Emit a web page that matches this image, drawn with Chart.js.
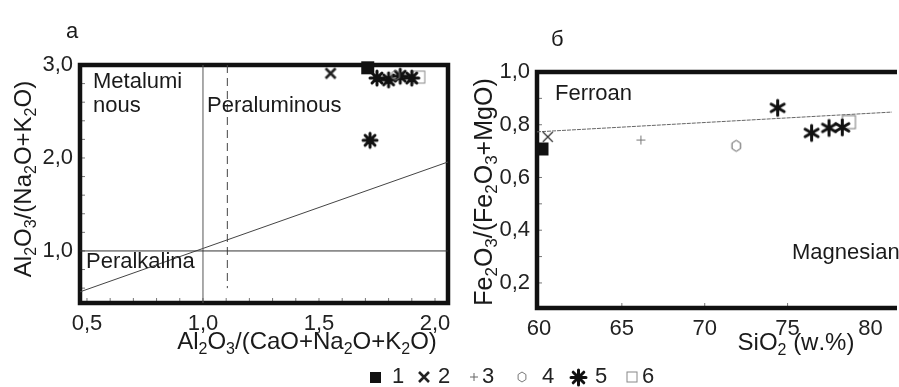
<!DOCTYPE html>
<html>
<head>
<meta charset="utf-8">
<script src="https://cdn.jsdelivr.net/npm/chart.js@4.4.1/dist/chart.umd.min.js"></script>
<style>
  body { margin: 0; background: #fff; width: 899px; height: 387px; overflow: hidden; position: relative;
         font-family: "Liberation Sans", Arial, sans-serif; }
  canvas { position: absolute; top: 0; }
  #left { left: 0; }
  #right { left: 460px; }
  .lg { position: absolute; font-size: 22px; line-height: 22px; color: #222; }
</style>
</head>
<body>
<canvas id="left" width="460" height="387"></canvas>
<canvas id="right" width="439" height="387"></canvas>
<div id="legend"></div>
<script>
const FONT = '"Liberation Sans", Arial, sans-serif';

// groups shown in the legend
const groupLabels = ["1", "2", "3", "4", "5", "6"];

// panel а : Al2O3/(CaO+Na2O+K2O) vs Al2O3/(Na2O+K2O)
const a1x = [1.71], a1y = [2.97];
const a2x = [1.55], a2y = [2.91];
const a4x = [1.83], a4y = [2.89];
const a5x = [1.72, 1.75, 1.80, 1.85, 1.90], a5y = [2.19, 2.86, 2.84, 2.88, 2.86];
const a6x = [1.93], a6y = [2.87];

// panel а boundaries
const aHorizX = [0.47, 2.056], aHorizY = [1.0, 1.0];
const aVertX = [1.0, 1.0], aVertY = [0.44, 3.0];
const aDashX = [1.105, 1.105], aDashY = [3.0, 0.6];
const aDiagX = [0.47, 2.056], aDiagY = [0.56, 1.957];

// panel б : SiO2 vs Fe2O3/(Fe2O3+MgO)
const b1x = [60.18], b1y = [0.708];
const b2x = [60.53], b2y = [0.754];
const b3x = [66.15], b3y = [0.742];
const b4x = [71.9], b4y = [0.72];
const b5x = [74.4, 76.45, 77.5, 78.3], b5y = [0.864, 0.769, 0.788, 0.79];
const b6x = [78.7], b6y = [0.81];

// ferroan / magnesian boundary
const bLineX = [59.88, 81.3], bLineY = [0.773, 0.848];

// tick labels
const aXTicks = [0.5, 1.0, 1.5, 2.0];
const aYTicks = [1.0, 2.0, 3.0];
const bXTicks = [60, 65, 70, 75, 80];
const bYTicks = [0.2, 0.4, 0.6, 0.8, 1.0];

// marker images
function marker(kind, size, lw, color) {
  const pad = Math.ceil(lw) + 2;
  const c = document.createElement("canvas");
  c.width = c.height = size + pad * 2;
  const g = c.getContext("2d");
  const m = c.width / 2, r = size / 2;
  g.strokeStyle = color;
  g.fillStyle = color;
  g.lineWidth = lw;
  g.beginPath();
  if (kind === "square") {
    g.fillRect(m - r, m - r, size, size);
  } else if (kind === "box") {
    g.strokeRect(m - r, m - r, size, size);
  } else if (kind === "x") {
    g.moveTo(m - r, m - r); g.lineTo(m + r, m + r);
    g.moveTo(m + r, m - r); g.lineTo(m - r, m + r);
    g.stroke();
  } else if (kind === "plus") {
    g.moveTo(m - r, m); g.lineTo(m + r, m);
    g.moveTo(m, m - r); g.lineTo(m, m + r);
    g.stroke();
  } else if (kind === "hex") {
    for (let i = 0; i < 6; i++) {
      const t = -Math.PI / 2 + i * Math.PI / 3;
      const px = m + r * 0.9 * Math.cos(t), py = m + r * Math.sin(t);
      if (i === 0) g.moveTo(px, py); else g.lineTo(px, py);
    }
    g.closePath();
    g.stroke();
  } else if (kind === "star6" || kind === "star8") {
    const n = kind === "star6" ? 3 : 4;
    g.lineCap = "round";
    for (let i = 0; i < n; i++) {
      const t = Math.PI / 2 + i * Math.PI / n;
      g.moveTo(m - r * Math.cos(t), m - r * Math.sin(t));
      g.lineTo(m + r * Math.cos(t), m + r * Math.sin(t));
    }
    g.stroke();
  }
  return c;
}

const mkA = {
  sq: marker("square", 13, 1, "#111"),
  x: marker("x", 10, 2.6, "#222"),
  hex: marker("hex", 10, 1, "#777"),
  star: marker("star8", 14, 3, "#111"),
  box: marker("box", 12, 1, "#888")
};
const mkB = {
  sq: marker("square", 13, 1, "#111"),
  x: marker("x", 10, 1.3, "#333"),
  plus: marker("plus", 9, 1, "#777"),
  hex: marker("hex", 11, 1, "#555"),
  star: marker("star6", 15, 3, "#111"),
  box: marker("box", 13, 1, "#777")
};

function pts(xs, ys, img) {
  return { data: xs.map((x, i) => ({ x: x, y: ys[i] })), pointStyle: img, pointRadius: 6, clip: false };
}
function line(xs, ys, color, dash, w) {
  return { data: xs.map((x, i) => ({ x: x, y: ys[i] })), showLine: true, pointRadius: 0,
           borderColor: color, borderWidth: w || 1, borderDash: dash || [] };
}

function richText(g, str, x, y, size, align) {
  // "_" puts the next character in subscript
  const parts = [];
  for (let i = 0; i < str.length; i++) {
    if (str[i] === "_") { parts.push([str[i + 1], true]); i++; }
    else parts.push([str[i], false]);
  }
  const sub = Math.round(size * 0.68);
  let w = 0;
  parts.forEach(p => { g.font = (p[1] ? sub : size) + "px " + FONT; w += g.measureText(p[0]).width; });
  let cx = align === "center" ? x - w / 2 : x;
  g.textAlign = "left";
  g.textBaseline = "alphabetic";
  parts.forEach(p => {
    g.font = (p[1] ? sub : size) + "px " + FONT;
    g.fillText(p[0], cx, y + (p[1] ? size * 0.2 : 0));
    cx += g.measureText(p[0]).width;
  });
}

function axisX(min, max, ticks, fmt, h) {
  return {
    type: "linear", min: min, max: max,
    grid: { display: false, drawTicks: false }, border: { display: false },
    afterBuildTicks: s => { s.ticks = ticks.map(v => ({ value: v })); },
    afterFit: s => { s.height = h; },
    ticks: { callback: fmt, font: { size: 22, family: FONT }, color: "#222", padding: 8, maxRotation: 0, autoSkip: false }
  };
}
function axisY(min, max, ticks, fmt, w) {
  return {
    type: "linear", min: min, max: max,
    grid: { display: false, drawTicks: false }, border: { display: false },
    afterBuildTicks: s => { s.ticks = ticks.map(v => ({ value: v })); },
    afterFit: s => { s.width = w; },
    ticks: { callback: fmt, font: { size: 22, family: FONT }, color: "#222", padding: 7, autoSkip: false }
  };
}
const comma1 = v => v.toFixed(1).replace(".", ",");

const leftDecor = {
  id: "leftDecor",
  beforeDatasetsDraw(chart) {
    const g = chart.ctx, a = chart.chartArea, xs = chart.scales.x, ys = chart.scales.y;
    g.save();
    g.strokeStyle = "#777";
    g.lineWidth = 1;
    g.beginPath();
    for (let v = 0.6; v < 2.9; v += 0.2) {
      const p = ys.getPixelForValue(v);
      g.moveTo(a.left, p); g.lineTo(a.left + 5, p);
    }
    for (let v = 0.5; v < 2.05; v += 0.1) {
      const p = xs.getPixelForValue(v);
      g.moveTo(p, a.bottom); g.lineTo(p, a.bottom - 5);
    }
    g.stroke();
    g.strokeStyle = "#111";
    g.lineWidth = 4.5;
    g.strokeRect(a.left, a.top, a.right - a.left, a.bottom - a.top);
    g.restore();
  },
  afterDraw(chart) {
    const g = chart.ctx;
    g.save();
    g.fillStyle = "#1a1a1a";
    g.font = "22px " + FONT;
    g.textAlign = "left";
    g.textBaseline = "alphabetic";
    g.fillText("Metalumi", 93, 88);
    g.fillText("nous", 93, 112);
    g.fillText("Peraluminous", 207, 112);
    g.fillText("Peralkalina", 86, 268);
    g.fillText("а", 66, 38);
    richText(g, "Al_2O_3/(CaO+Na_2O+K_2O)", 307, 349, 24, "center");
    g.translate(31, 179);
    g.rotate(-Math.PI / 2);
    richText(g, "Al_2O_3/(Na_2O+K_2O)", 0, 0, 24, "center");
    g.restore();
  }
};

const rightDecor = {
  id: "rightDecor",
  beforeDatasetsDraw(chart) {
    const g = chart.ctx, a = chart.chartArea, xs = chart.scales.x, ys = chart.scales.y;
    g.save();
    g.strokeStyle = "#777";
    g.lineWidth = 1;
    g.beginPath();
    for (let v = 0.2; v < 0.95; v += 0.1) {
      const p = ys.getPixelForValue(v);
      g.moveTo(a.left, p); g.lineTo(a.left + 5, p);
    }
    [65, 70, 75].forEach(v => {
      const p = xs.getPixelForValue(v);
      g.moveTo(p, a.bottom); g.lineTo(p, a.bottom - 5);
    });
    g.stroke();
    g.strokeStyle = "#111";
    g.lineWidth = 4.5;
    g.beginPath();
    g.moveTo(a.right + 5, a.top); g.lineTo(a.left, a.top);
    g.lineTo(a.left, a.bottom); g.lineTo(a.right + 5, a.bottom);
    g.stroke();
    g.restore();
  },
  afterDraw(chart) {
    const g = chart.ctx;
    g.save();
    g.fillStyle = "#1a1a1a";
    g.font = "22px " + FONT;
    g.textAlign = "left";
    g.textBaseline = "alphabetic";
    g.fillText("Ferroan", 95, 100);
    g.fillText("Magnesian", 332, 259);
    g.fillText("б", 91, 46);
    richText(g, "SiO_2 (w.%)", 336, 350, 24, "center");
    g.translate(32, 192);
    g.rotate(-Math.PI / 2);
    richText(g, "Fe_2O_3/(Fe_2O_3+MgO)", 0, 0, 25, "center");
    g.restore();
  }
};

const baseOpts = {
  responsive: false,
  animation: false,
  events: [],
  plugins: { legend: { display: false }, tooltip: { enabled: false } }
};

new Chart(document.getElementById("left"), {
  type: "scatter",
  data: {
    datasets: [
      pts(a1x, a1y, mkA.sq),
      pts(a2x, a2y, mkA.x),
      pts(a4x, a4y, mkA.hex),
      pts(a5x, a5y, mkA.star),
      pts(a6x, a6y, mkA.box),
      line(aHorizX, aHorizY, "#333"),
      line(aVertX, aVertY, "#555"),
      line(aDashX, aDashY, "#444", [8, 5]),
      line(aDiagX, aDiagY, "#444")
    ]
  },
  options: Object.assign({}, baseOpts, {
    layout: { padding: { left: 0, right: 12, top: 65, bottom: 0 } },
    scales: {
      x: axisX(0.47, 2.056, aXTicks, comma1, 84),
      y: axisY(0.44, 3.0, aYTicks, comma1, 80)
    }
  }),
  plugins: [leftDecor]
});

new Chart(document.getElementById("right"), {
  type: "scatter",
  data: {
    datasets: [
      pts(b1x, b1y, mkB.sq),
      pts(b2x, b2y, mkB.x),
      pts(b3x, b3y, mkB.plus),
      pts(b4x, b4y, mkB.hex),
      pts(b5x, b5y, mkB.star),
      pts(b6x, b6y, mkB.box),
      line(bLineX, bLineY, "#666", [4, 1])
    ]
  },
  options: Object.assign({}, baseOpts, {
    layout: { padding: { left: 0, right: 0, top: 72, bottom: 0 } },
    scales: {
      x: axisX(59.88, 81.3, bXTicks, v => String(v), 79),
      y: axisY(0.105, 1.0, bYTicks, comma1, 77)
    }
  }),
  plugins: [rightDecor]
});

// shared legend under both panels
const legendMarks = [
  marker("square", 11, 1, "#111"),
  marker("x", 10, 2.6, "#222"),
  marker("plus", 8, 1, "#666"),
  marker("hex", 10, 1, "#777"),
  marker("star8", 15, 3, "#111"),
  marker("box", 10, 1, "#888")
];
const markCx = [375, 424, 474, 522, 578, 632];
const labelX = [392, 438, 482, 542, 595, 642];
const legend = document.getElementById("legend");
groupLabels.forEach((t, i) => {
  const c = legendMarks[i];
  c.style.position = "absolute";
  c.style.left = (markCx[i] - c.width / 2) + "px";
  c.style.top = (377 - c.height / 2) + "px";
  legend.appendChild(c);
  const s = document.createElement("span");
  s.className = "lg";
  s.textContent = t;
  s.style.left = labelX[i] + "px";
  s.style.top = "365px";
  legend.appendChild(s);
});
</script>
</body>
</html>
